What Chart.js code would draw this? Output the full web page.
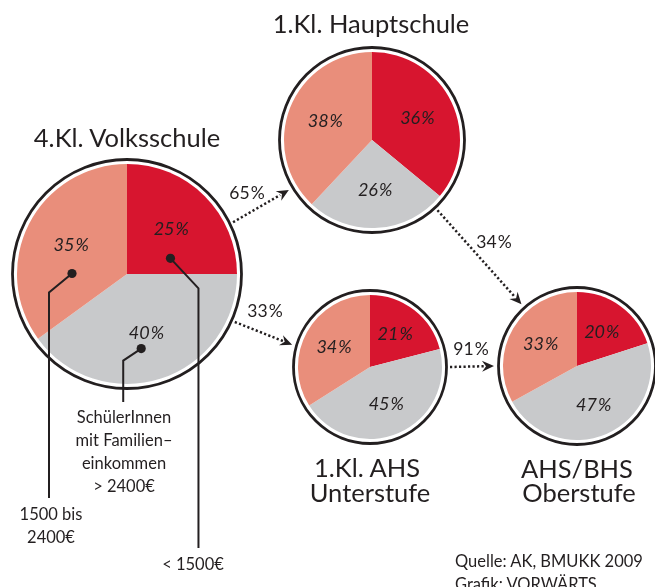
<!DOCTYPE html>
<html lang="de">
<head>
<meta charset="utf-8">
<script src="https://cdn.jsdelivr.net/npm/chart.js@4.4.1/dist/chart.umd.min.js"></script>
<style>
  html, body { margin: 0; padding: 0; background: #fff; }
  #bild { position: relative; width: 655px; height: 587px; overflow: hidden; }
  #bild canvas { position: absolute; }
  #overlay { position: absolute; left: 0; top: 0; font-family: Lato, "Open Sans", sans-serif; }
</style>
</head>
<body>
<div id="bild">
  <canvas id="kreisVolksschule"></canvas>
  <canvas id="kreisHauptschule"></canvas>
  <canvas id="kreisAhs"></canvas>
  <canvas id="kreisOberstufe"></canvas>
  <svg id="overlay" width="655" height="587"></svg>
</div>
<script>
// Einkommensgruppen, im Uhrzeigersinn ab 12 Uhr
var einkommen = ['< 1500€', '> 2400€', '1500 bis 2400€'];
var farben = ['#d7152f', '#c8c9cb', '#e98e7b'];

// Anteile in Prozent
var volksschule = [25, 40, 35];
var hauptschule = [36, 26, 38];
var ahsUnterstufe = [21, 45, 34];
var oberstufe = [20, 47, 33];

// Übertrittsquoten
var uebertritte = [65, 33, 34, 91];

var textFarbe = '#231f20';

var kreise = [
  { id: 'kreisVolksschule', werte: volksschule, x: 127, y: 274, r: 110 },
  { id: 'kreisHauptschule', werte: hauptschule, x: 372, y: 140, r: 88 },
  { id: 'kreisAhs', werte: ahsUnterstufe, x: 370, y: 367, r: 72 },
  { id: 'kreisOberstufe', werte: oberstufe, x: 577, y: 366, r: 74 }
];

// schwarzer Ring + Prozentwerte in den Segmenten
var ringPlugin = {
  id: 'ring',
  afterDatasetsDraw: function (chart) {
    var ctx = chart.ctx;
    var bogen = chart.getDatasetMeta(0).data;
    var werte = chart.data.datasets[0].data;
    ctx.save();
    ctx.beginPath();
    ctx.arc(bogen[0].x, bogen[0].y, bogen[0].outerRadius + 4.5, 0, Math.PI * 2);
    ctx.lineWidth = 2.8;
    ctx.strokeStyle = textFarbe;
    ctx.stroke();

    ctx.fillStyle = textFarbe;
    ctx.font = 'italic 18px Lato, "Open Sans", sans-serif';
    ctx.textAlign = 'center';
    ctx.textBaseline = 'middle';
    bogen.forEach(function (a, i) {
      var mitte = (a.startAngle + a.endAngle) / 2;
      var r = a.outerRadius * 0.57;
      ctx.fillText(werte[i] + '\u200a%', a.x + Math.cos(mitte) * r, a.y + Math.sin(mitte) * r);
    });
    ctx.restore();
  }
};

kreise.forEach(function (k) {
  var seite = 2 * (k.r + 9);
  var cv = document.getElementById(k.id);
  cv.width = seite;
  cv.height = seite;
  k.left = k.x - seite / 2;
  k.top = k.y - seite / 2;
  cv.style.left = k.left + 'px';
  cv.style.top = k.top + 'px';
  k.chart = new Chart(cv.getContext('2d'), {
    type: 'pie',
    data: {
      labels: einkommen,
      datasets: [{ data: k.werte, backgroundColor: farben, borderWidth: 0 }]
    },
    options: {
      responsive: false,
      animation: false,
      events: [],
      radius: k.r,
      layout: { padding: 0 },
      plugins: { legend: { display: false }, tooltip: { enabled: false } }
    },
    plugins: [ringPlugin]
  });
});

// Hilfsfunktionen für das Overlay
var svg = document.getElementById('overlay');
var NS = 'http://www.w3.org/2000/svg';

function el(name, attrs, txt) {
  var e = document.createElementNS(NS, name);
  for (var key in attrs) e.setAttribute(key, attrs[key]);
  if (txt !== undefined) e.textContent = txt;
  svg.appendChild(e);
  return e;
}

function amKreis(k, grad, abstand) {
  var a = k.chart.getDatasetMeta(0).data[0];
  var rad = (grad - 90) * Math.PI / 180;
  var r = a.outerRadius + abstand;
  return { x: k.left + a.x + Math.cos(rad) * r, y: k.top + a.y + Math.sin(rad) * r };
}

// Punkt innerhalb eines Segments
function imSegment(k, i, anteil, rFaktor) {
  var a = k.chart.getDatasetMeta(0).data[i];
  var w = a.startAngle + (a.endAngle - a.startAngle) * anteil;
  var r = a.outerRadius * rFaktor;
  return { x: k.left + a.x + Math.cos(w) * r, y: k.top + a.y + Math.sin(w) * r };
}

function text(x, y, s, groesse, anker) {
  el('text', { x: x, y: y, 'font-size': groesse, fill: textFarbe, 'text-anchor': anker || 'middle' }, s);
}

// gepunktete Pfeile
var pfeile = [
  { von: 0, a: 64, nach: 1, b: 239, tx: 247, ty: 199 },
  { von: 0, a: 114, nach: 2, b: 286, tx: 265, ty: 317 },
  { von: 1, a: 137, nach: 3, b: 318, tx: 494, ty: 248 },
  { von: 2, a: 90, nach: 3, b: 270, tx: 471, ty: 355 }
];

pfeile.forEach(function (p, i) {
  var s = amKreis(kreise[p.von], p.a, 8);
  var t = amKreis(kreise[p.nach], p.b, 9);
  var dx = t.x - s.x, dy = t.y - s.y;
  var len = Math.sqrt(dx * dx + dy * dy);
  var ux = dx / len, uy = dy / len;
  var kopf = 12;
  el('line', {
    x1: s.x, y1: s.y, x2: t.x - ux * (kopf - 2), y2: t.y - uy * (kopf - 2),
    stroke: textFarbe, 'stroke-width': 2.5, 'stroke-dasharray': '2.2 2.3'
  });
  var bx = t.x - ux * kopf, by = t.y - uy * kopf;
  var nx = -uy * 5.5, ny = ux * 5.5;
  var kx = t.x - ux * (kopf - 4), ky = t.y - uy * (kopf - 4);
  el('polygon', {
    points: [t.x, t.y, bx + nx, by + ny, kx, ky, bx - nx, by - ny].join(' '),
    fill: textFarbe
  });
  text(p.tx, p.ty, uebertritte[i] + '\u200a%', 17.5);
});

// Legende über Hinweislinien am Volksschul-Kreis
var hinweise = [
  { seg: 2, anteil: 0.29, rf: 0.5, knick: [-23, 19], ende: 498 },
  { seg: 0, anteil: 0.78, rf: 0.42, knick: [28, 30], ende: 548 },
  { seg: 1, anteil: 0.55, rf: 0.69, knick: [-18, 12], ende: 402 }
];

hinweise.forEach(function (h) {
  var p = imSegment(kreise[0], h.seg, h.anteil, h.rf);
  var kx = p.x + h.knick[0], ky = p.y + h.knick[1];
  el('polyline', {
    points: [p.x, p.y, kx, ky, kx, h.ende].join(' '),
    fill: 'none', stroke: textFarbe, 'stroke-width': 2
  });
  el('circle', { cx: p.x, cy: p.y, r: 4.6, fill: textFarbe });
});

// Titel
text(127, 147, '4.Kl. Volksschule', 25.5);
text(371, 33, '1.Kl. Hauptschule', 25.5);
text(367, 477, '1.Kl. AHS', 25.5);
text(370, 502, 'Unterstufe', 25.5);
text(577, 478, 'AHS/BHS', 25.5);
text(579, 502, 'Oberstufe', 25.5);

// Beschriftung Einkommensgruppen
text(124, 423, 'SchülerInnen', 16.5);
text(124, 446, 'mit Familien–', 16.5);
text(124, 469, 'einkommen', 16.5);
text(124, 492, '> 2400€', 16.5);
text(51, 520, '1500 bis', 16.5);
text(51, 543, '2400€', 16.5);
text(193, 570, '< 1500€', 16.5);

// Quelle
text(455, 567, 'Quelle: AK, BMUKK 2009', 16.5, 'start');
text(455, 590, 'Grafik: VORWÄRTS', 16.5, 'start');
</script>
</body>
</html>
